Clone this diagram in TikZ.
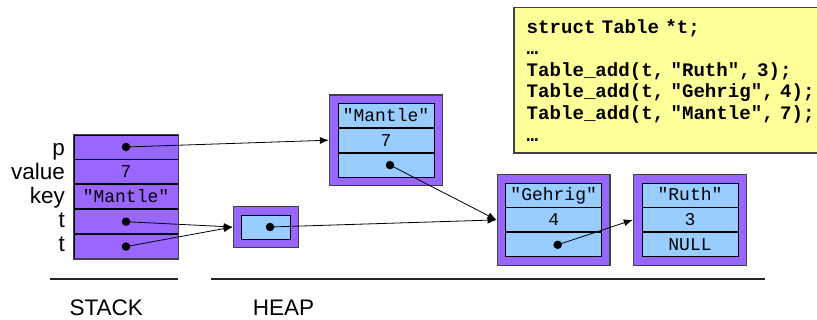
\documentclass[tikz,border=0pt]{standalone}
\usepackage{fontspec}
\setmainfont{Liberation Sans}
\setmonofont{Liberation Mono}
\usetikzlibrary{arrows.meta, positioning, fit, backgrounds}
\definecolor{recpurple}{RGB}{153,102,255}
\definecolor{cellblue}{RGB}{153,204,255}
\definecolor{codeyellow}{RGB}{255,255,153}
\definecolor{edgegray}{RGB}{64,64,64}
% bold listing font
\newcommand{\listingfont}{\fontsize{19.1}{21.6}\selectfont\ttfamily\bfseries}

\begin{document}
\begin{tikzpicture}[
        x=1pt, y=-1pt,
        node distance=0pt,
        cell/.style={rectangle, draw=black, line width=0.9pt, fill=cellblue, minimum width=96pt, minimum height=24pt, inner sep=0pt, text height=12pt, text depth=0pt, font=\fontsize{18}{20}\selectfont\ttfamily},
        slot/.style={cell, fill=recpurple, minimum width=104pt},
        record/.style={rectangle, draw=edgegray, line width=1.4pt, fill=recpurple, inner sep=8pt},
        dot/.style={circle, fill=black, inner sep=0pt, minimum size=8.5pt},
        varname/.style={anchor=base east, inner sep=0pt, font=\fontsize{22.5}{24}\selectfont},
        region/.style={anchor=base west, inner sep=0pt, font=\fontsize{22.5}{24}\selectfont},
        codebox/.style={rectangle, draw=edgegray, line width=1.4pt, fill=codeyellow, minimum height=145.4pt, text width=300pt, inner xsep=12.7pt, align=left, font=\listingfont},
        ptr/.style={-{Latex[length=9pt, width=7pt]}, line width=0.8pt}
    ]
    \useasboundingbox (0,0) rectangle (817,320);

    % code that builds the table
    \node[codebox, anchor=north west] (code) at (513.3,6.8) {struct Table *t;\\
        …\\
        Table\_add(t, "Ruth", 3);\\
        Table\_add(t, "Gehrig", 4);\\
        Table\_add(t, "Mantle", 7);\\
        …};

    % stack frame
    \node[slot] (p) at (126,147) {};
    \node[slot, below=of p] (value) {7};
    \node[slot, below=of value] (key) {"Mantle"};
    \node[slot, below=of key] (t1) {};
    \node[slot, below=of t1] (t2) {};
    \node[draw=edgegray, line width=1.4pt, inner sep=0pt, fit=(p)(t2)] (stack) {};

    \node[varname] (plabel) at (65,156) {p};
    \node[varname] (valuelabel) at (65,180) {value};
    \node[varname] (keylabel) at (65,204) {key};
    \node[varname] (t1label) at (65,228) {t};
    \node[varname] (t2label) at (65,252) {t};

    % heap: the table handle
    \node[cell, minimum width=48.3pt] (tcell) at (266,227) {};

    % heap: the three bindings
    \node[cell] (mkey) at (386,115.3) {"Mantle"};
    \node[cell, below=of mkey] (mval) {7};
    \node[cell, below=of mval] (mnext) {};

    \node[cell] (gkey) at (553.7,195) {"Gehrig"};
    \node[cell, below=of gkey] (gval) {4};
    \node[cell, below=of gval] (gnext) {};

    \node[cell] (rkey) at (690,195) {"Ruth"};
    \node[cell, below=of rkey] (rval) {3};
    \node[cell, below=of rval] (rnext) {NULL};

    \begin{scope}[on background layer]
        \node[record, fit=(tcell)] (tbox) {};
        \node[record, fit=(mkey)(mnext)] (mantle) {};
        \node[record, fit=(gkey)(gnext)] (gehrig) {};
        \node[record, fit=(rkey)(rnext)] (ruth) {};
    \end{scope}

    % pointers
    \node[dot] (pdot) at (p.center) {};
    \node[dot] (t1dot) at (t1.center) {};
    \node[dot] (t2dot) at (t2.center) {};
    \node[dot] (tdot) at ([xshift=4pt]tcell.center) {};
    \node[dot] (mdot) at ([xshift=4pt]mnext.center) {};
    \node[dot] (gdot) at ([xshift=4pt]gnext.center) {};

    \draw[ptr] (pdot.center) -- (mantle.west);
    \draw[ptr] (t1dot.center) -- (tbox.west);
    \draw[ptr] (t2dot.center) -- (tbox.west);
    \draw[ptr] (tdot.center) -- (gehrig.west);
    \draw[ptr] (mdot.center) -- (gehrig.west);
    \draw[ptr] (gdot.center) -- (ruth.west);

    % memory regions
    \draw[line width=2.5pt, black!85] (50,279) -- (178,279);
    \draw[line width=2.5pt, black!85] (211,279) -- (765,279);
    \node[region] (stacklabel) at (69.3,315.5) {STACK};
    \node[region] (heaplabel) at (252.7,315.5) {HEAP};
\end{tikzpicture}
\end{document}
